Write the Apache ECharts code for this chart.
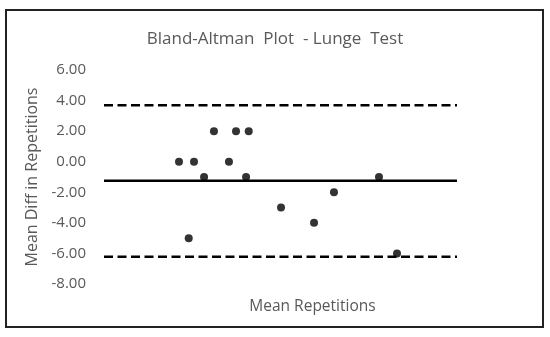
<!DOCTYPE html>
<html>
<head>
<meta charset="utf-8">
<script src="https://cdn.jsdelivr.net/npm/echarts@6/dist/echarts.min.js"></script>
<style>
  html, body { margin: 0; padding: 0; background: #fff; }
  #chart { width: 550px; height: 337px; }
</style>
</head>
<body>
<div id="chart"></div>
<script>
// mean repetitions (x) and difference between trials (y)
const meanReps = [9.25, 10.1, 9.8, 10.67, 11.23, 12.08, 12.48, 13.2, 13.05, 15.03, 16.9, 18.03, 20.58, 21.6]
const diffReps = [0, 0, -5, -1, 2, 0, 2, 2, -1, -3, -4, -2, -1, -6]

// bias and limits of agreement
const meanDiff = -1.25
const upperLoA = 3.7
const lowerLoA = -6.22
const lineSpan = [5, 25]

const yTicks = [-8, -6, -4, -2, 0, 2, 4, 6]

const textGray = '#595959'
const font = 'Open Sans'

function hLine(v) {
  return lineSpan.map(x => [x, v])
}

const chart = echarts.init(document.getElementById('chart'))

chart.setOption({
  animation: false,
  title: {
    text: 'Bland-Altman  Plot  - Lunge  Test',
    left: 'center',
    top: 26,
    textStyle: { color: textGray, fontSize: 17, fontWeight: 'normal', fontFamily: font }
  },
  graphic: [{
    type: 'rect',
    shape: { x: 6, y: 10, width: 537, height: 317 },
    style: { fill: 'none', stroke: '#222', lineWidth: 2 },
    silent: true
  }],
  grid: { left: 104, right: 93, top: 70, bottom: 53 },
  xAxis: {
    type: 'value',
    min: lineSpan[0],
    max: lineSpan[1],
    name: 'Mean Repetitions',
    nameLocation: 'middle',
    nameGap: 15,
    nameTextStyle: { color: textGray, fontSize: 15.5, fontFamily: font, padding: [0, 0, 0, 64] },
    axisLine: { show: false },
    axisTick: { show: false },
    axisLabel: { show: false },
    splitLine: { show: false }
  },
  yAxis: {
    type: 'value',
    min: yTicks[0],
    max: yTicks[yTicks.length - 1],
    interval: 2,
    name: 'Mean Diff in Repetitions',
    nameLocation: 'middle',
    nameGap: 60,
    nameTextStyle: { color: textGray, fontSize: 16, fontFamily: font },
    axisLine: { show: false },
    axisTick: { show: false },
    splitLine: { show: false },
    axisLabel: {
      color: textGray,
      fontSize: 15,
      fontFamily: font,
      margin: 18,
      formatter: v => v.toFixed(2)
    }
  },
  series: [
    {
      type: 'line',
      data: hLine(upperLoA),
      symbol: 'none',
      lineStyle: { color: '#000', width: 2.5, type: [9, 4.5] },
      z: 1
    },
    {
      type: 'line',
      data: hLine(meanDiff),
      symbol: 'none',
      lineStyle: { color: '#000', width: 2.5 },
      z: 1
    },
    {
      type: 'line',
      data: hLine(lowerLoA),
      symbol: 'none',
      lineStyle: { color: '#000', width: 2.5, type: [9, 4.5] },
      z: 1
    },
    {
      type: 'scatter',
      data: meanReps.map((x, i) => [x, diffReps[i]]),
      symbol: 'circle',
      symbolSize: 8,
      itemStyle: { color: '#000' },
      z: 3
    }
  ]
})
</script>
</body>
</html>
